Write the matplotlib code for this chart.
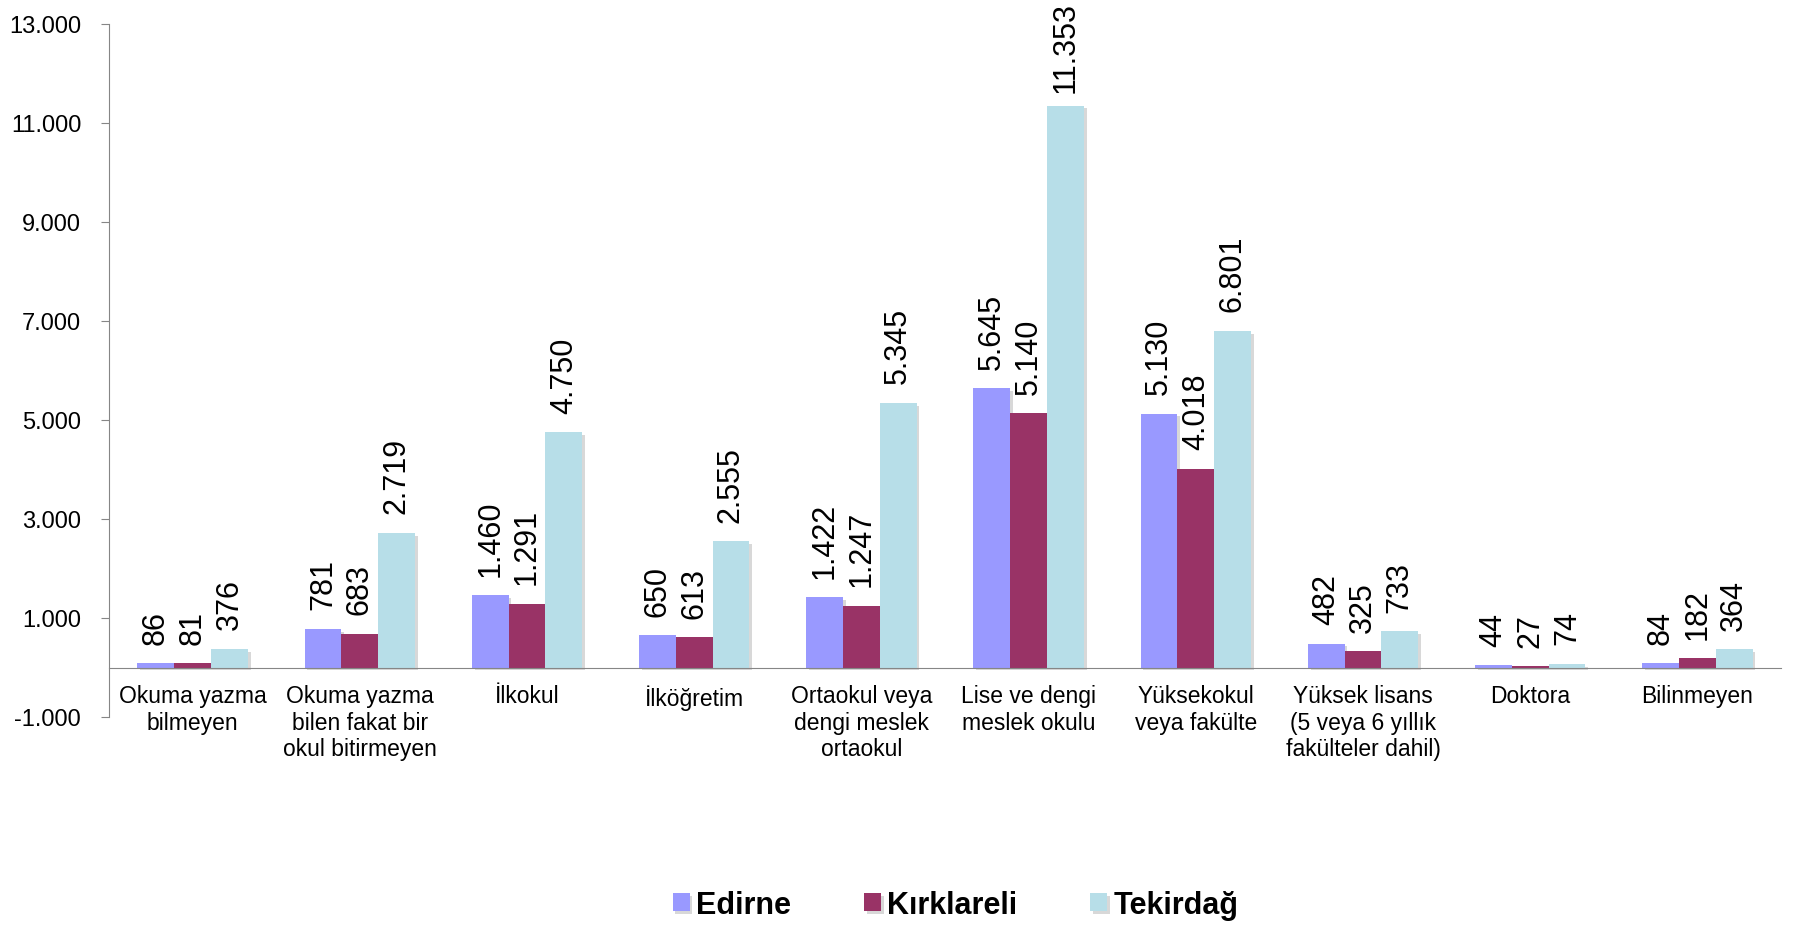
import matplotlib
matplotlib.use("Agg")
import matplotlib.pyplot as plt
import matplotlib.patheffects as pe
from matplotlib.ticker import FuncFormatter
import numpy as np

kategoriler = ["Okuma yazma\nbilmeyen", "Okuma yazma\nbilen fakat bir\nokul bitirmeyen",
               "İlkokul", "İlköğretim", "Ortaokul veya\ndengi meslek\nortaokul",
               "Lise ve dengi\nmeslek okulu", "Yüksekokul\nveya fakülte",
               "Yüksek lisans\n(5 veya 6 yıllık\nfakülteler dahil)", "Doktora", "Bilinmeyen"]
edirne = [86, 781, 1460, 650, 1422, 5645, 5130, 482, 44, 84]
kirklareli = [81, 683, 1291, 613, 1247, 5140, 4018, 325, 27, 182]
tekirdag = [376, 2719, 4750, 2555, 5345, 11353, 6801, 733, 74, 364]
seriler = ["Edirne", "Kırklareli", "Tekirdağ"]
renkler = ["#9999FF", "#993366", "#B7DEE8"]

def binlik(v, pos=None):
    return "{:,.0f}".format(v).replace(",", ".")

plt.rcParams['font.family'] = ['Liberation Sans', 'DejaVu Sans']

fig = plt.figure(figsize=(17.96, 9.28), dpi=100)
ax = fig.add_axes([109/1796, 1-718/928, (1781-109)/1796, (718-25)/928])

x = np.arange(len(kategoriler))
w = 0.22
ofset = 14
golge = [pe.SimplePatchShadow(offset=(2, -2), shadow_rgbFace='gray', alpha=0.3), pe.Normal()]
etiketler = []
for i, (veri, ad, renk) in enumerate(zip([edirne, kirklareli, tekirdag], seriler, renkler)):
    konum = x + (i-1)*w
    bars = ax.bar(konum, veri, width=w, color=renk, label=ad, zorder=2)
    for b in bars:
        b.set_path_effects(golge)
    for xi, v in zip(konum, veri):
        t = ax.annotate(binlik(v), (xi, v), xytext=(0, ofset), textcoords='offset points',
                        rotation=90, ha='center', va='bottom', fontsize=22)
        etiketler.append(t)

ax.set_xlim(-0.5, 9.5)
ax.set_ylim(-1000, 13000)
ax.set_yticks(range(-1000, 13001, 2000))
ax.yaxis.set_major_formatter(FuncFormatter(binlik))
ax.set_xticks(x)
ax.set_xticklabels(kategoriler)
ax.tick_params(axis='x', length=0, pad=12, labelsize=16.5)
ax.tick_params(axis='y', labelsize=17, length=6, color='#868686', pad=14)

for s in ['top', 'right']:
    ax.spines[s].set_visible(False)
ax.spines['bottom'].set_position(('data', 0))
ax.spines['bottom'].set_color('#868686')
ax.spines['left'].set_color('#868686')
ax.spines['bottom'].set_zorder(3)

fig.legend(loc='center', bbox_to_anchor=(0.532, 1-906/928), ncol=3, frameon=False,
           prop={'size': 22, 'weight': 'bold'}, handlelength=0.55, handleheight=0.55,
           handletextpad=0.2, columnspacing=2.4)

# ust kenardan tasan etiketi asagi it
fig.canvas.draw()
r = fig.canvas.get_renderer()
for t in etiketler:
    bb = t.get_window_extent(r)
    if bb.y1 > fig.bbox.height - 2:
        fazla = (bb.y1 - fig.bbox.height + 2) * 72 / fig.dpi
        t.set_position((0, ofset - fazla))

fig.savefig("out.png", dpi=100)
